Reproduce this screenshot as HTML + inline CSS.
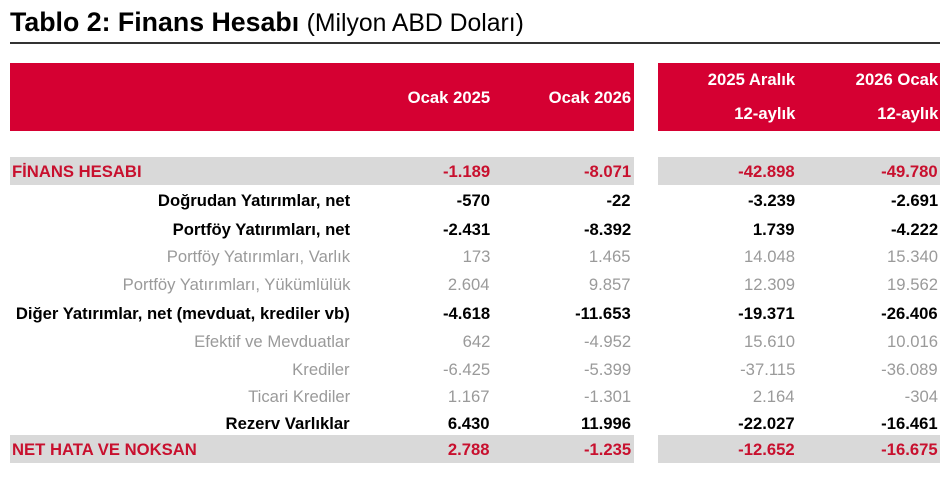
<!DOCTYPE html>
<html><head><meta charset="utf-8">
<style>
body{margin:0;width:950px;height:480px;background:#fff;position:relative;overflow:hidden;font-family:"Liberation Sans",sans-serif}
.t{position:absolute;white-space:nowrap;transform-origin:right center;transform:scaleX(.98);line-height:20px;font-size:17px}
.l{transform-origin:left center}
.b{font-weight:bold}
.g{color:#9a9a9a}
.r{color:#c8102e}
.k{color:#000}
.band{position:absolute}
</style></head><body>
<div style="position:absolute;left:10px;top:5px;font-size:27px;white-space:nowrap;transform:scaleX(.99);transform-origin:left top;line-height:34px"><b>Tablo 2: Finans Hesabı</b> <span style="font-size:25px">(Milyon ABD Doları)</span></div>
<div style="position:absolute;left:10px;top:42px;width:930px;height:2px;background:#333"></div>
<div class="band" style="left:10px;top:63px;width:624px;height:68px;background:#d50032"></div>
<div class="band" style="left:658px;top:63px;width:282px;height:68px;background:#d50032"></div>
<div class="t b" style="color:#fff;right:460px;top:88px">Ocak 2025</div>
<div class="t b" style="color:#fff;right:319px;top:88px">Ocak 2026</div>
<div class="t b" style="color:#fff;right:155px;top:70px">2025 Aralık</div>
<div class="t b" style="color:#fff;right:155px;top:104px">12-aylık</div>
<div class="t b" style="color:#fff;right:12px;top:70px">2026 Ocak</div>
<div class="t b" style="color:#fff;right:12px;top:104px">12-aylık</div>
<div id="rows"></div>
<script>
const labels=["FİNANS HESABI","Doğrudan Yatırımlar, net","Portföy Yatırımları, net","Portföy Yatırımları, Varlık","Portföy Yatırımları, Yükümlülük","Diğer Yatırımlar, net (mevduat, krediler vb)","Efektif ve Mevduatlar","Krediler","Ticari Krediler","Rezerv Varlıklar","NET HATA VE NOKSAN"];
const styles=["r","k","k","g","g","k","g","g","g","k","r"];
const col1=["-1.189","-570","-2.431","173","2.604","-4.618","642","-6.425","1.167","6.430","2.788"];
const col2=["-8.071","-22","-8.392","1.465","9.857","-11.653","-4.952","-5.399","-1.301","11.996","-1.235"];
const col3=["-42.898","-3.239","1.739","14.048","12.309","-19.371","15.610","-37.115","2.164","-22.027","-12.652"];
const col4=["-49.780","-2.691","-4.222","15.340","19.562","-26.406","10.016","-36.089","-304","-16.461","-16.675"];
const tops=[172,201,230,257,285,314,342,370,397,424,450];
const root=document.getElementById('rows');
labels.forEach((lab,i)=>{
  const st=styles[i], bold=st!=='g'?' b':'';
  const y=tops[i];
  if(st==='r'){
    const b1=document.createElement('div');b1.className='band';
    
    
    b1.style.cssText=`left:10px;top:${y-15}px;width:624px;height:28px;background:#d9d9d9`;root.appendChild(b1);
    const b2=document.createElement('div');b2.className='band';
    
    
    b2.style.cssText=`left:658px;top:${y-15}px;width:282px;height:28px;background:#d9d9d9`;root.appendChild(b2);
  }
  const l=document.createElement('div');
  
  
  l.textContent=lab;
  if(st==='r'){l.className='t l'+bold+' '+st;l.style.left='12px';}
  else{l.className='t'+bold+' '+st;l.style.right='600px';}
  l.style.top=(y-10)+'px';root.appendChild(l);
  [[col1,460],[col2,319],[col3,155],[col4,12]].forEach(([arr,r],j)=>{
    const c=document.createElement('div');
    
    
    c.className='t'+bold+' '+st;c.textContent=arr[i];
    c.style.right=r+'px';c.style.top=(y-10)+'px';root.appendChild(c);
  });
});
</script>
</body></html>
